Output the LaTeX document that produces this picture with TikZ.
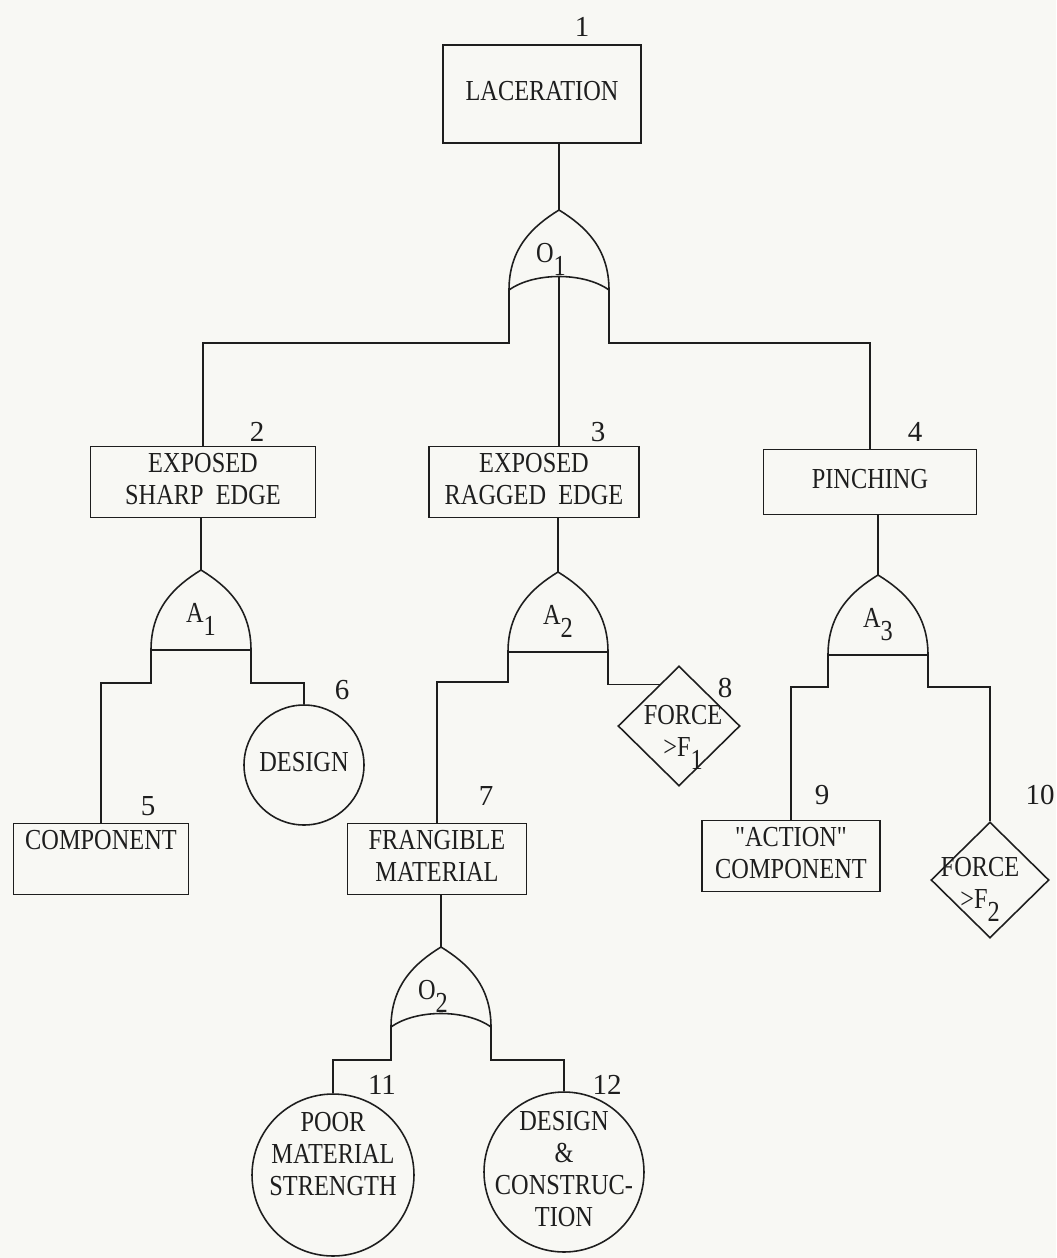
\documentclass[tikz,border=0pt]{standalone}
\usepackage{fontspec}
\setmainfont{Liberation Serif}
\usepackage{graphicx}
\usetikzlibrary{shapes.geometric}
\definecolor{paper}{RGB}{248,248,244}
\definecolor{ink}{RGB}{30,30,30}
\newcommand{\tw}[1]{\scalebox{0.84}[1]{\begin{tabular}{@{}c@{}}#1\end{tabular}}}
\newcommand{\lowr}[1]{\raisebox{-1ex}{#1}}
\tikzset{
  event/.style={draw=ink, line width=0.9pt, inner sep=2pt},
  basic/.style={circle, draw=ink, line width=0.9pt, minimum size=#1, inner sep=0pt},
  undev/.style={diamond, draw=ink, line width=0.9pt, inner sep=0pt},
  num/.style={inner sep=0pt},
  pics/andgate/.style={code={
    \draw[line width=0.9pt] (-50,80) .. controls (-50,38) and (-26,16) .. (0,0)
      .. controls (26,16) and (50,38) .. (50,80) -- cycle;
    \coordinate (-top) at (0,0);
    \coordinate (-l) at (-50,80);
    \coordinate (-r) at (50,80);
    \node[num] (-lbl) at (0,48) {\tw{#1}};
  }},
  pics/orgate/.style={code={
    \draw[line width=0.9pt] (-50,80) .. controls (-50,38) and (-26,16) .. (0,0)
      .. controls (26,16) and (50,38) .. (50,80)
      .. controls (25,62) and (-25,62) .. (-50,80);
    \coordinate (-top) at (0,0);
    \coordinate (-l) at (-50,80);
    \coordinate (-r) at (50,80);
    \coordinate (-m) at (0,66.5);
    \node[num] (-lbl) at (-8,48) {\tw{#1}};
  }}
}

\begin{document}
\begin{tikzpicture}[x=0.02cm, y=-0.02cm, color=ink, line width=0.9pt,
    font=\fontsize{16.5}{18.2}\selectfont]
  \useasboundingbox (0,0) rectangle (1056,1258);
  \fill[paper] (0,0) rectangle (1056,1258);

  \node[event, minimum width=3.96cm, minimum height=1.96cm] (b1) at (542,94) {\tw{LACERATION}};
  \node[event, minimum width=4.5cm, minimum height=1.3cm] (b2) at (203,482) {\tw{EXPOSED\\SHARP~ EDGE}};
  \node[event, minimum width=4.2cm, minimum height=1.3cm] (b3) at (534,482) {\tw{EXPOSED\\RAGGED~ EDGE}};
  \node[event, minimum width=4.26cm, minimum height=1.3cm] (b4) at (870,482) {\tw{PINCHING}};
  \node[event, minimum width=3.5cm, minimum height=1.36cm] (b5) at (101,859) {\tw{COMPONENT\\ \mbox{}}};
  \node[basic=2.4cm, label={center:\tw{DESIGN}}] (c6) at (304,765) {};
  \node[event, minimum width=3.58cm, minimum height=1.36cm] (b7) at (437,859) {\tw{FRANGIBLE\\MATERIAL}};
  \node[undev, minimum width=2.44cm, minimum height=2.4cm,
    label={[xshift=0.08cm, yshift=-0.2cm]center:\tw{FORCE\\>F\lowr{1}}}] (d8) at (679,726) {};
  \node[event, minimum width=3.56cm, minimum height=1.3cm] (b9) at (791,856) {\tw{\textquotedbl ACTION\textquotedbl\\COMPONENT}};
  \node[undev, minimum width=2.36cm, minimum height=2.32cm,
    label={[xshift=-0.2cm, yshift=-0.16cm]center:\tw{FORCE\\>F\lowr{2}}}] (d10) at (990,880) {};
  \node[basic=3.24cm, label={[yshift=0.36cm]center:\tw{POOR\\MATERIAL\\STRENGTH}}] (c11) at (333,1175) {};
  \node[basic=3.2cm, label={center:\tw{DESIGN\\\&\\CONSTRUC-\\TION}}] (c12) at (564,1172) {};

  \node[num] (n1) at (582,27) {1};
  \node[num] (n2) at (257,432) {2};
  \node[num] (n3) at (598,432) {3};
  \node[num] (n4) at (915,432) {4};
  \node[num] (n5) at (148,806) {5};
  \node[num] (n6) at (342,690) {6};
  \node[num] (n7) at (486,796) {7};
  \node[num] (n8) at (725,688) {8};
  \node[num] (n9) at (822,795) {9};
  \node[num] (n10) at (1040,795) {10};
  \node[num] (n11) at (382,1085) {11};
  \node[num] (n12) at (607,1085) {12};

  \pic (o1) at (559,210) {orgate={O\lowr{1}}};
  \pic (a1) at (201,570) {andgate={A\lowr{1}}};
  \pic (a2) at (558,572) {andgate={A\lowr{2}}};
  \pic (a3) at (878,575) {andgate={A\lowr{3}}};
  \pic (o2) at (441,947) {orgate={O\lowr{2}}};

  \draw (b1.south -| o1-top) -- (o1-top);
  \draw (o1-l) -- ++(0,53) -| (b2.north);
  \draw (o1-m) -- (o1-m |- b3.north);
  \draw (o1-r) -- ++(0,53) -| (b4.north);
  \draw (b2.south -| a1-top) -- (a1-top);
  \draw (b3.south -| a2-top) -- (a2-top);
  \draw (b4.south -| a3-top) -- (a3-top);
  \draw (a1-l) -- ++(0,33) -| (b5.north);
  \draw (a1-r) -- ++(0,33) -| (c6.north);
  \draw (a2-l) -- ++(0,30) -| (b7.north);
  \draw (a2-r) |- (d8.115);
  \draw (a3-l) -- ++(0,32) -| (b9.north);
  \draw (a3-r) -- ++(0,32) -| (d10.north);
  \draw (b7.south -| o2-top) -- (o2-top);
  \draw (o2-l) -- ++(0,33) -| (c11.north);
  \draw (o2-r) -- ++(0,33) -| (c12.north);
\end{tikzpicture}
\end{document}
